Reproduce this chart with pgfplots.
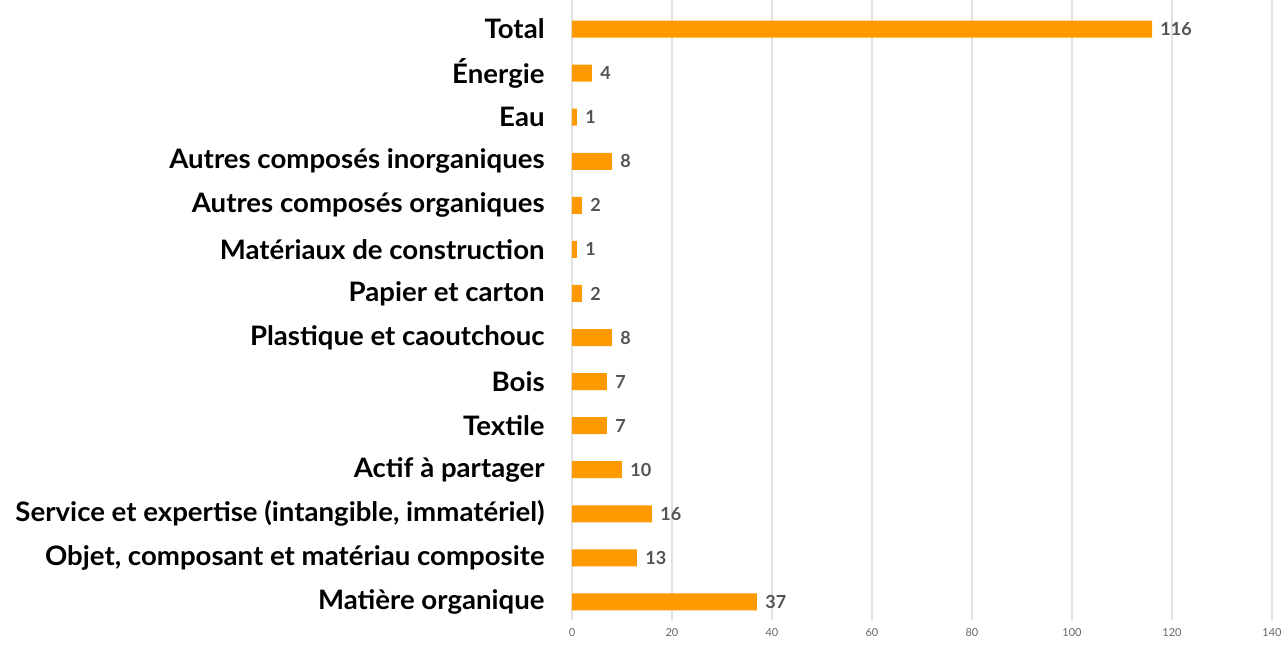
\documentclass[border=0pt]{standalone}
\usepackage{pgfplots}
\pgfplotsset{compat=1.18}
\usepackage{fontspec}
\setmainfont{Lato}
\newfontfamily\labelfont[FakeStretch=1.03]{Lato}
\definecolor{barorange}{HTML}{FF9900}
\definecolor{valgrey}{HTML}{404040}
\definecolor{gridgrey}{HTML}{E2E2E2}
\begin{document}
\begin{tikzpicture}
\begin{axis}[
  at={(0,0)}, anchor=south west,
  scale only axis,
  width=350pt, height=310pt,
  xbar, bar width=8.5pt,
  xmin=0, xmax=140,
  ymin=-0.41, ymax=13.66,
  xtick={0,20,...,140},
  ytick={0,...,13},
  yticklabels={Matière organique,
    {Objet, composant et matériau composite},
    {Service et expertise (intangible, immatériel)},
    Actif à partager, Textile, Bois, Plastique et caoutchouc,
    Papier et carton, Matériaux de construction,
    Autres composés organiques, Autres composés inorganiques,
    Eau, Énergie, Total},
  axis line style={draw=none},
  tick style={draw=none},
  major tick length=0pt,
  xmajorgrids, grid style={gridgrey, line width=0.6pt},
  yticklabel style={font=\labelfont\bfseries\fontsize{13.4}{15}\selectfont, color=black, inner sep=0pt, anchor=east, xshift=-13.5pt},
  xticklabel style={font=\fontsize{5.5}{6}\selectfont, color=valgrey!80, inner sep=0pt, anchor=north, yshift=-4pt},
  /pgf/number format/assume math mode=true,
  nodes near coords,
  every node near coord/.append style={font=\bfseries\fontsize{9}{10}\selectfont, color=valgrey!90, inner sep=0pt, anchor=west, xshift=4pt},
]
\addplot[fill=barorange, draw=none] coordinates {
(37,0) (13,1) (16,2) (10,3) (7,4) (7,5) (8,6) (2,7) (1,8) (2,9) (8,10) (1,11) (4,12) (116,13)
};
\end{axis}
\pgfresetboundingbox
\path (-286pt,-12pt) rectangle (356pt,310pt);
\end{tikzpicture}
\end{document}
